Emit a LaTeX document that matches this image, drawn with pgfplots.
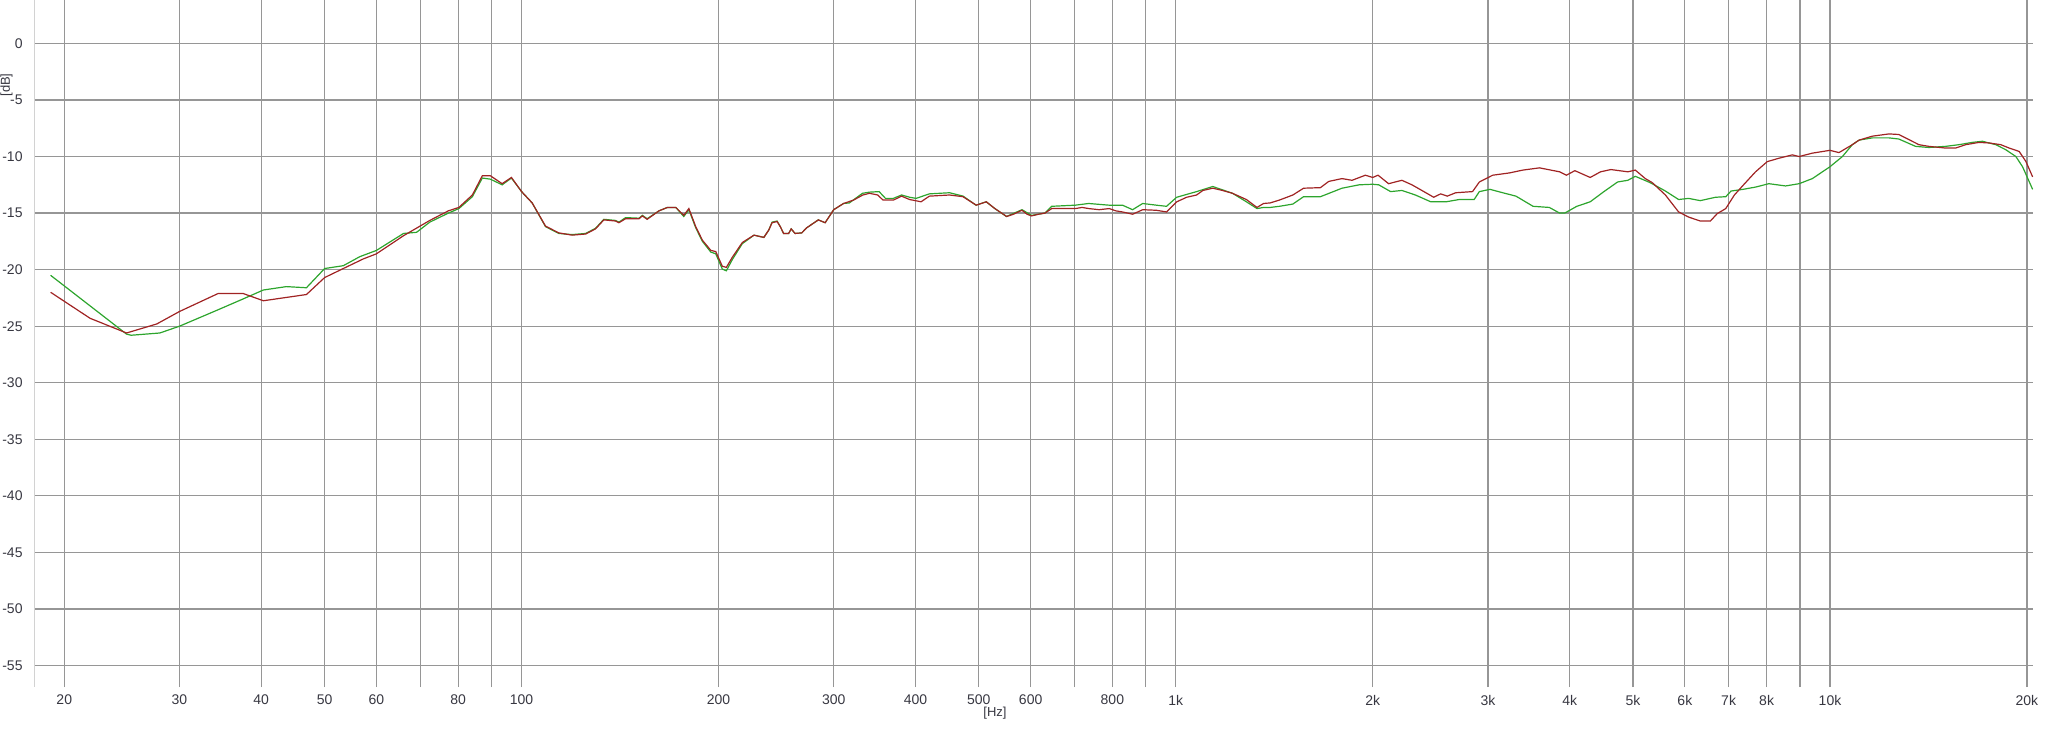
\documentclass[border=0pt]{standalone}
\usepackage{fontspec}
\setmainfont{Liberation Sans}
\usepackage{pgfplots}
\pgfplotsset{compat=1.18}
\definecolor{gridc}{RGB}{150,150,150}
\definecolor{redc}{RGB}{160,35,35}
\definecolor{greenc}{RGB}{45,165,45}
\definecolor{labc}{RGB}{55,55,65}
\begin{document}
\begin{tikzpicture}[x=1pt,y=1pt]
\begin{axis}[
 at={(0,0)}, anchor=south west,
 scale only axis, width=999.5pt, height=343.5pt,
 xmode=log, log basis x=10,
 xmin=17.98, xmax=20434, ymin=-56.9, ymax=3.84,
 xtick={20,30,40,50,60,80,100,200,300,400,500,600,800,1000,2000,3000,4000,5000,6000,7000,8000,10000,20000},
 xticklabels={20,30,40,50,60,80,100,200,300,400,500,600,800,1k,2k,3k,4k,5k,6k,7k,8k,10k,20k},
 minor xtick={70,90,700,900,9000},
 ytick={-55,-50,-45,-40,-35,-30,-25,-20,-15,-10,-5,0},
 grid=both,
 major grid style={gridc, line width=0.6pt},
 minor grid style={gridc, line width=0.6pt},
 major tick length=0pt, minor tick length=0pt,
 axis line style={draw=none},
 tick label style={font=\fontsize{7}{8}\selectfont, text=labc},
 /pgf/number format/assume math mode=true,
 yticklabel style={anchor=east, xshift=-2.2pt},
 xticklabel style={anchor=center, yshift=-6.5pt},
 clip=true,
]
\draw[gray!35, line width=0.6pt] (rel axis cs:0,0) -- (rel axis cs:0,1);
\addplot[greenc, line width=0.6pt] coordinates {
(19.06,-20.5)(24.9,-25.7)(25.3,-25.8)(28.0,-25.6)(30.0,-25.0)(34.2,-23.6)(37.5,-22.6)(40.3,-21.8)(43.7,-21.5)(46.9,-21.6)(50.0,-19.9)(53.4,-19.65)(56.6,-18.85)(60.0,-18.3)(66.0,-16.8)(69.1,-16.7)(72.4,-15.8)(77.3,-15.0)(80.2,-14.6)(84.1,-13.55)(87.1,-11.9)(89.6,-12.0)(93.4,-12.5)(96.5,-11.9)(100,-13.1)
(103.8,-14.1)(108.8,-16.2)(114.0,-16.8)(119.5,-16.9)(125.3,-16.8)(129.7,-16.35)(133.6,-15.55)(139.2,-15.65)(140.9,-15.8)(144.2,-15.4)(151.2,-15.45)(153.0,-15.2)(155.6,-15.5)(162.2,-14.8)(167.1,-14.5)(172.1,-14.5)(177.0,-15.3)(180.2,-14.7)(184.6,-16.3)(189.0,-17.5)(194.7,-18.45)(198.1,-18.6)(202.7,-19.95)(205.6,-20.1)(210.0,-19.1)(217.5,-17.7)(226.6,-16.95)(234.6,-17.15)(238.7,-16.5)(241.5,-15.8)(245.8,-15.7)(248.6,-16.2)(251.5,-16.8)(256.0,-16.8)(258.3,-16.4)(261.9,-16.8)(268.1,-16.75)(272.8,-16.3)(284.2,-15.6)(291.1,-15.85)(300,-14.7)(310.6,-14.15)(317,-14.1)
(332,-13.25)(340,-13.15)(352,-13.1)(360,-13.7)(370,-13.7)(381,-13.4)(392,-13.6)(401,-13.7)(420,-13.3)(451,-13.2)(473,-13.5)(495,-14.3)(513,-14.0)(529,-14.6)(551,-15.3)(582,-14.7)(602,-15.2)(631,-15.0)(646,-14.4)(702,-14.3)(736,-14.15)(791,-14.3)(829,-14.3)(859,-14.7)(890,-14.15)(934,-14.3)(968,-14.4)(1003,-13.6)(1076,-13.1)(1139,-12.65)(1221,-13.25)(1282,-14.0)(1331,-14.6)(1362,-14.5)(1394,-14.5)
(1440,-14.4)(1510,-14.2)(1568,-13.55)(1664,-13.55)(1795,-12.8)(1907,-12.5)(2000,-12.45)(2043,-12.5)(2130,-13.1)(2216,-13.0)(2324,-13.4)(2453,-14.0)(2590,-14.0)(2711,-13.8)(2858,-13.8)(2911,-13.1)(3022,-12.9)(3160,-13.2)(3311,-13.5)(3517,-14.4)(3724,-14.5)(3861,-15.0)(3931,-15.0)(4102,-14.4)(4300,-14.0)(4513,-13.1)(4735,-12.25)(4909,-12.1)(5040,-11.75)(5282,-12.25)(5348,-12.4)
(5603,-13.05)(5870,-13.8)(6079,-13.7)(6335,-13.9)(6683,-13.6)(6929,-13.55)(7059,-13.05)(7364,-12.9)(7696,-12.7)(8065,-12.4)(8553,-12.6)(8971,-12.4)(9397,-11.95)(10000,-10.9)(10446,-10.0)(10818,-8.95)(11075,-8.55)(11606,-8.35)(12306,-8.35)(12741,-8.45)(13513,-9.1)(14164,-9.2)(15021,-9.1)(15750,-8.95)(16500,-8.75)(17100,-8.65)(17926,-8.95)(18570,-9.4)(19237,-10.0)(19698,-10.9)(20405,-12.9)
};
\addplot[redc, line width=0.6pt] coordinates {
(19.06,-22.0)(21.9,-24.3)(24.9,-25.6)(27.7,-24.8)(30.0,-23.7)(34.4,-22.1)(37.5,-22.1)(40.3,-22.75)(46.9,-22.2)(50.0,-20.7)(53.4,-19.9)(57.3,-19.05)(60.0,-18.6)(66.0,-17.0)(72.4,-15.65)(77.3,-14.8)(80.2,-14.5)(84.1,-13.4)(87.1,-11.7)(89.6,-11.7)(93.4,-12.4)(96.5,-11.85)(100,-13.1)
(103.8,-14.1)(108.8,-16.15)(114.0,-16.75)(119.5,-16.95)(125.3,-16.85)(129.7,-16.4)(133.6,-15.6)(139.2,-15.7)(140.9,-15.85)(144.2,-15.5)(151.2,-15.5)(153.0,-15.25)(155.6,-15.55)(162.2,-14.8)(167.1,-14.5)(172.1,-14.5)(177.0,-15.2)(180.2,-14.6)(184.6,-16.2)(189.0,-17.4)(194.7,-18.3)(198.1,-18.4)(202.7,-19.7)(205.6,-19.8)(210.0,-18.9)(217.5,-17.6)(226.6,-16.95)(234.6,-17.15)(238.7,-16.5)(241.5,-15.85)(245.8,-15.75)(248.6,-16.2)(251.5,-16.8)(256.0,-16.8)(258.3,-16.4)(261.9,-16.8)(268.1,-16.75)(272.8,-16.3)(284.2,-15.6)(291.1,-15.85)(300,-14.7)(310.6,-14.15)(321.7,-13.85)
(332.4,-13.4)(340.3,-13.25)(350.3,-13.4)(356.9,-13.85)(370.2,-13.85)(380.9,-13.5)(391.9,-13.8)(400,-13.9)(408,-14.0)(420.1,-13.5)(451,-13.4)(472.8,-13.55)(495.5,-14.3)(513.4,-14.0)(528.9,-14.6)(551.5,-15.3)(564.7,-15.1)(581.9,-14.75)(592.6,-15.1)(601.9,-15.25)(616.7,-15.1)(631.1,-15.0)(646.2,-14.6)(669.4,-14.6)(702.2,-14.6)(719.1,-14.5)(736.3,-14.6)(763.6,-14.7)(791.2,-14.6)(809.7,-14.8)(829.1,-14.9)(859.2,-15.1)(890.1,-14.7)(933.8,-14.75)(968.1,-14.9)(1003.5,-14.0)(1039,-13.6)(1076,-13.4)(1100,-13.0)(1139,-12.8)(1179,-13.0)(1221,-13.25)(1282,-13.8)(1331,-14.5)(1362,-14.15)(1394,-14.1)
(1440,-13.85)(1510,-13.4)(1568,-12.8)(1664,-12.75)(1713,-12.2)(1795,-11.95)(1860,-12.1)(1949,-11.65)(2000,-11.85)(2038,-11.65)(2115,-12.4)(2216,-12.1)(2296,-12.5)(2378,-13.0)(2479,-13.6)(2540,-13.3)(2600,-13.5)(2679,-13.2)(2842,-13.1)(2911,-12.25)(3051,-11.65)(3235,-11.45)(3391,-11.2)(3597,-11.0)(3861,-11.35)(3954,-11.65)(4074,-11.25)(4300,-11.85)(4459,-11.35)(4625,-11.15)(4909,-11.35)(5040,-11.2)(5220,-11.95)
(5348,-12.3)(5603,-13.4)(5870,-14.9)(6079,-15.35)(6335,-15.7)(6564,-15.7)(6723,-15.05)(6929,-14.6)(7143,-13.4)(7364,-12.55)(7696,-11.35)(8018,-10.45)(8354,-10.15)(8759,-9.85)(8971,-10.0)(9397,-9.7)(10000,-9.45)(10322,-9.65)(10818,-8.95)(11075,-8.55)(11606,-8.2)(12306,-8.0)(12741,-8.05)(13199,-8.5)(13673,-8.95)(14164,-9.1)(15021,-9.25)(15563,-9.25)(16126,-8.95)(16899,-8.75)(17508,-8.8)(18242,-8.95)(18792,-9.25)(19464,-9.55)(19934,-10.45)(20405,-11.8)
};
\end{axis}
\node[rotate=90, inner sep=0pt, font=\fontsize{6.5}{7.5}\selectfont, text=labc] at (-13.8,301) {[dB]};
\node[font=\fontsize{6.5}{7.5}\selectfont, text=labc] at (480.5,-13) {[Hz]};
\pgfresetboundingbox
\path[use as bounding box] (-17,-21.5) rectangle (1007,343.5);
\end{tikzpicture}
\end{document}
